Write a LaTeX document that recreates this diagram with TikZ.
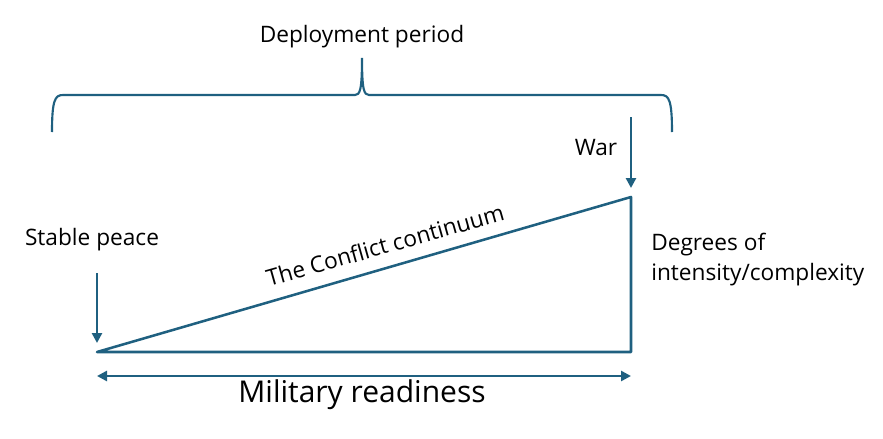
\documentclass[tikz,border=0pt]{standalone}
\usepackage{fontspec}
\setmainfont{Open Sans}
\usetikzlibrary{arrows.meta}
\definecolor{teal}{RGB}{31,96,128}
\tikzset{
  x=0.75pt, y=-0.75pt,
  lineseg/.style={draw=teal, line width=1.9pt},
  arr/.style={draw=teal, line width=1.9pt, -{Triangle[length=7.5pt,width=7.5pt]}},
  darr/.style={draw=teal, line width=1.9pt, {Triangle[length=7.5pt,width=7.5pt]}-{Triangle[length=7.5pt,width=7.5pt]}},
  lbl/.style={font=\fontsize{17}{22.5}\selectfont, text=black, inner sep=0pt},
  biglbl/.style={font=\fontsize{22.5}{26}\selectfont, text=black, inner sep=0pt}
}
\begin{document}
\begin{tikzpicture}
\useasboundingbox (0,0) rectangle (883,439);
% brace
\coordinate (bl) at (52,132);
\coordinate (br) at (672,132);
\coordinate (btip) at (362,58);
\draw[lineseg, line width=1.6pt] (bl) .. controls (52,100) and (55,95) .. (63,95) -- (355,95) .. controls (360,95) and (362,90) .. (btip) .. controls (362,90) and (364,95) .. (369,95) -- (661,95) .. controls (669,95) and (672,100) .. (br);
\node[lbl] (dep) at (362,37) {Deployment period};
% triangle
\coordinate (A) at (97,352);
\coordinate (B) at (631,352);
\coordinate (C) at (631,197);
\draw[lineseg, line join=round] (A) -- (B) -- (C) -- cycle;
% war arrow
\coordinate (w1) at (631,117);
\coordinate (w2) at (631,188);
\draw[arr] (w1) -- (w2);
\node[lbl] (war) at (596,148) {War};
% stable peace
\coordinate (s1) at (97,273);
\coordinate (s2) at (97,343);
\draw[arr] (s1) -- (s2);
\node[lbl] (sp) at (92,240) {Stable peace};
% continuum label
\node[lbl, rotate=15.8] (cc) at (385,245) {The Conflict continuum};
% degrees
\node[lbl, anchor=west, align=left] (deg) at (651,260) {Degrees of\\intensity/complexity};
% military readiness
\coordinate (m1) at (97,376);
\coordinate (m2) at (631,376);
\draw[darr] (m1) -- (m2);
\node[biglbl] (mr) at (362,395) {Military readiness};
\end{tikzpicture}
\end{document}
